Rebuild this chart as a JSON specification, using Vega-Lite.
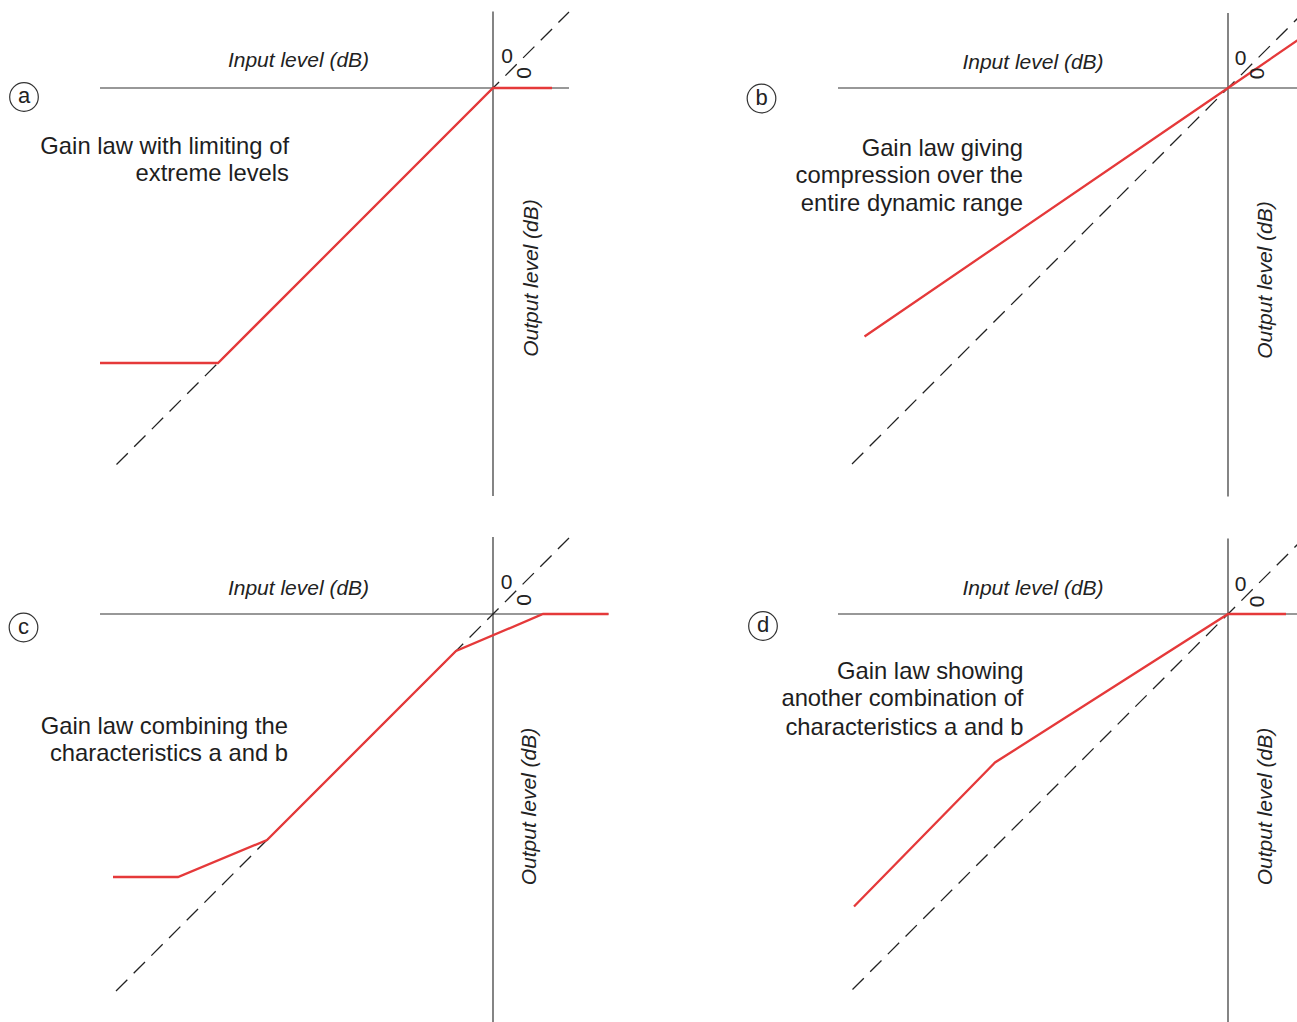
{
  "$schema": "https://vega.github.io/schema/vega-lite/v6.json",
  "padding": 0,
  "background": "white",
  "config": {"view": {"stroke": null}},
  "datasets": {
    "lines": [
      {"panel": "a", "series": "axis", "seg": "h", "i": 0, "x": -78.6, "y": 0},
      {"panel": "a", "series": "axis", "seg": "h", "i": 1, "x": 15.2, "y": 0},
      {"panel": "a", "series": "axis", "seg": "v", "i": 0, "x": 0, "y": 15.3},
      {"panel": "a", "series": "axis", "seg": "v", "i": 1, "x": 0, "y": -81.6},
      {"panel": "a", "series": "unity", "seg": "d", "i": 0, "x": -75.3, "y": -75.3},
      {"panel": "a", "series": "unity", "seg": "d", "i": 1, "x": 15.2, "y": 15.2},
      {"panel": "a", "series": "gain", "seg": "g", "i": 0, "x": -78.6, "y": -55},
      {"panel": "a", "series": "gain", "seg": "g", "i": 1, "x": -55, "y": -55},
      {"panel": "a", "series": "gain", "seg": "g", "i": 2, "x": 0, "y": 0},
      {"panel": "a", "series": "gain", "seg": "g", "i": 3, "x": 11.8, "y": 0},

      {"panel": "b", "series": "axis", "seg": "h", "i": 0, "x": -78, "y": 0},
      {"panel": "b", "series": "axis", "seg": "h", "i": 1, "x": 20, "y": 0},
      {"panel": "b", "series": "axis", "seg": "v", "i": 0, "x": 0, "y": 15},
      {"panel": "b", "series": "axis", "seg": "v", "i": 1, "x": 0, "y": -81.7},
      {"panel": "b", "series": "unity", "seg": "d", "i": 0, "x": -75.2, "y": -75.2},
      {"panel": "b", "series": "unity", "seg": "d", "i": 1, "x": 16, "y": 16},
      {"panel": "b", "series": "gain", "seg": "g", "i": 0, "x": -72.7, "y": -49.7},
      {"panel": "b", "series": "gain", "seg": "g", "i": 1, "x": 0, "y": 0},
      {"panel": "b", "series": "gain", "seg": "g", "i": 2, "x": 15, "y": 10.3},

      {"panel": "c", "series": "axis", "seg": "h", "i": 0, "x": -78.6, "y": 0},
      {"panel": "c", "series": "axis", "seg": "h", "i": 1, "x": 23.1, "y": 0},
      {"panel": "c", "series": "axis", "seg": "v", "i": 0, "x": 0, "y": 15.4},
      {"panel": "c", "series": "axis", "seg": "v", "i": 1, "x": 0, "y": -81.6},
      {"panel": "c", "series": "unity", "seg": "d", "i": 0, "x": -75.4, "y": -75.4},
      {"panel": "c", "series": "unity", "seg": "d", "i": 1, "x": 15.2, "y": 15.2},
      {"panel": "c", "series": "gain", "seg": "g", "i": 0, "x": -76, "y": -52.6},
      {"panel": "c", "series": "gain", "seg": "g", "i": 1, "x": -63, "y": -52.6},
      {"panel": "c", "series": "gain", "seg": "g", "i": 2, "x": -45.2, "y": -45.2},
      {"panel": "c", "series": "gain", "seg": "g", "i": 3, "x": -7.4, "y": -7.4},
      {"panel": "c", "series": "gain", "seg": "g", "i": 4, "x": 10, "y": 0},
      {"panel": "c", "series": "gain", "seg": "g", "i": 5, "x": 23.1, "y": 0},

      {"panel": "d", "series": "axis", "seg": "h", "i": 0, "x": -78, "y": 0},
      {"panel": "d", "series": "axis", "seg": "h", "i": 1, "x": 20, "y": 0},
      {"panel": "d", "series": "axis", "seg": "v", "i": 0, "x": 0, "y": 15.1},
      {"panel": "d", "series": "axis", "seg": "v", "i": 1, "x": 0, "y": -81.6},
      {"panel": "d", "series": "unity", "seg": "d", "i": 0, "x": -75.1, "y": -75.1},
      {"panel": "d", "series": "unity", "seg": "d", "i": 1, "x": 16, "y": 16},
      {"panel": "d", "series": "gain", "seg": "g", "i": 0, "x": -74.8, "y": -58.5},
      {"panel": "d", "series": "gain", "seg": "g", "i": 1, "x": -46.6, "y": -29.7},
      {"panel": "d", "series": "gain", "seg": "g", "i": 2, "x": 0, "y": 0},
      {"panel": "d", "series": "gain", "seg": "g", "i": 3, "x": 11.6, "y": 0}
    ],
    "labels": [
      {"panel": "a", "kind": "tag", "text": "a", "x": -93.8, "y": -1.8},
      {"panel": "a", "kind": "note", "text": "Gain law with limiting of", "x": -40.8, "y": -11.7},
      {"panel": "a", "kind": "note", "text": "extreme levels", "x": -40.8, "y": -17.2},
      {"panel": "a", "kind": "input", "text": "Input level (dB)", "x": -38.9, "y": 5.4},
      {"panel": "a", "kind": "output", "text": "Output level (dB)", "x": 7.7, "y": -38},
      {"panel": "a", "kind": "zero", "text": "0", "x": 2.8, "y": 6.2},
      {"panel": "a", "kind": "zerorot", "text": "0", "x": 6.4, "y": 3},

      {"panel": "b", "kind": "tag", "text": "b", "x": -93.3, "y": -2.1},
      {"panel": "b", "kind": "note", "text": "Gain law giving", "x": -41, "y": -12.1},
      {"panel": "b", "kind": "note", "text": "compression over the", "x": -41, "y": -17.6},
      {"panel": "b", "kind": "note", "text": "entire dynamic range", "x": -41, "y": -23.1},
      {"panel": "b", "kind": "input", "text": "Input level (dB)", "x": -39, "y": 5.1},
      {"panel": "b", "kind": "output", "text": "Output level (dB)", "x": 7.5, "y": -38.4},
      {"panel": "b", "kind": "zero", "text": "0", "x": 2.5, "y": 5.9},
      {"panel": "b", "kind": "zerorot", "text": "0", "x": 6, "y": 2.9},

      {"panel": "c", "kind": "tag", "text": "c", "x": -93.9, "y": -2.7},
      {"panel": "c", "kind": "note", "text": "Gain law combining the", "x": -41, "y": -22.5},
      {"panel": "c", "kind": "note", "text": "characteristics a and b", "x": -41, "y": -28},
      {"panel": "c", "kind": "input", "text": "Input level (dB)", "x": -38.9, "y": 5.1},
      {"panel": "c", "kind": "output", "text": "Output level (dB)", "x": 7.3, "y": -38.5},
      {"panel": "c", "kind": "zero", "text": "0", "x": 2.7, "y": 6.3},
      {"panel": "c", "kind": "zerorot", "text": "0", "x": 6.3, "y": 2.8},

      {"panel": "d", "kind": "tag", "text": "d", "x": -93, "y": -2.4},
      {"panel": "d", "kind": "note", "text": "Gain law showing", "x": -40.9, "y": -11.5},
      {"panel": "d", "kind": "note", "text": "another combination of", "x": -40.9, "y": -17},
      {"panel": "d", "kind": "note", "text": "characteristics a and b", "x": -40.9, "y": -22.7},
      {"panel": "d", "kind": "input", "text": "Input level (dB)", "x": -39, "y": 5},
      {"panel": "d", "kind": "output", "text": "Output level (dB)", "x": 7.5, "y": -38.5},
      {"panel": "d", "kind": "zero", "text": "0", "x": 2.5, "y": 5.8},
      {"panel": "d", "kind": "zerorot", "text": "0", "x": 6, "y": 2.5}
    ]
  },
  "spacing": 0,
  "columns": 2,
  "concat": [
    {
      "width": 735, "height": 526,
      "encoding": {
        "x": {"field": "x", "type": "quantitative", "axis": null, "scale": {"domain": [-98.6, 48.4], "nice": false, "zero": false}},
        "y": {"field": "y", "type": "quantitative", "axis": null, "scale": {"domain": [-87.6, 17.6], "nice": false, "zero": false}}
      },
      "layer": [
        {"data": {"name": "lines"}, "transform": [{"filter": "datum.panel === 'a' && datum.series === 'axis'"}], "mark": {"type": "line", "color": "#333333", "strokeWidth": 1.2, "clip": true}, "encoding": {"detail": {"field": "seg"}, "order": {"field": "i"}}},
        {"data": {"name": "lines"}, "transform": [{"filter": "datum.panel === 'a' && datum.series === 'unity'"}], "mark": {"type": "line", "color": "#222222", "strokeWidth": 1.3, "strokeDash": [16, 9], "clip": true}, "encoding": {"detail": {"field": "seg"}, "order": {"field": "i"}}},
        {"data": {"name": "lines"}, "transform": [{"filter": "datum.panel === 'a' && datum.series === 'gain'"}], "mark": {"type": "line", "color": "#e5393a", "strokeWidth": 2.3, "clip": true}, "encoding": {"order": {"field": "i"}}},
        {"data": {"name": "labels"}, "transform": [{"filter": "datum.panel === 'a' && datum.kind === 'tag'"}], "mark": {"type": "point", "shape": "circle", "size": 820, "filled": false, "stroke": "#333333", "strokeWidth": 1.2, "opacity": 1}},
        {"data": {"name": "labels"}, "transform": [{"filter": "datum.panel === 'a' && datum.kind === 'tag'"}], "mark": {"type": "text", "align": "center", "baseline": "middle", "fontSize": 22, "font": "Liberation Sans", "color": "#222222", "dy": -1}, "encoding": {"text": {"field": "text"}}},
        {"data": {"name": "labels"}, "transform": [{"filter": "datum.panel === 'a' && datum.kind === 'note'"}], "mark": {"type": "text", "align": "right", "baseline": "middle", "fontSize": 23.8, "font": "Liberation Sans", "color": "#1e1e1e"}, "encoding": {"text": {"field": "text"}}},
        {"data": {"name": "labels"}, "transform": [{"filter": "datum.panel === 'a' && datum.kind === 'input'"}], "mark": {"type": "text", "align": "center", "baseline": "middle", "fontSize": 21, "fontStyle": "italic", "font": "Liberation Sans", "color": "#222222"}, "encoding": {"text": {"field": "text"}}},
        {"data": {"name": "labels"}, "transform": [{"filter": "datum.panel === 'a' && datum.kind === 'output'"}], "mark": {"type": "text", "align": "center", "baseline": "middle", "angle": 270, "fontSize": 21, "fontStyle": "italic", "font": "Liberation Sans", "color": "#222222"}, "encoding": {"text": {"field": "text"}}},
        {"data": {"name": "labels"}, "transform": [{"filter": "datum.panel === 'a' && datum.kind === 'zero'"}], "mark": {"type": "text", "align": "center", "baseline": "middle", "fontSize": 21, "font": "Liberation Sans", "color": "#222222"}, "encoding": {"text": {"field": "text"}}},
        {"data": {"name": "labels"}, "transform": [{"filter": "datum.panel === 'a' && datum.kind === 'zerorot'"}], "mark": {"type": "text", "align": "center", "baseline": "middle", "angle": 270, "fontSize": 21, "font": "Liberation Sans", "color": "#222222"}, "encoding": {"text": {"field": "text"}}}
      ]
    },
    {
      "width": 562, "height": 526,
      "encoding": {
        "x": {"field": "x", "type": "quantitative", "axis": null, "scale": {"domain": [-98.6, 13.8], "nice": false, "zero": false}},
        "y": {"field": "y", "type": "quantitative", "axis": null, "scale": {"domain": [-87.6, 17.6], "nice": false, "zero": false}}
      },
      "layer": [
        {"data": {"name": "lines"}, "transform": [{"filter": "datum.panel === 'b' && datum.series === 'axis'"}], "mark": {"type": "line", "color": "#333333", "strokeWidth": 1.2, "clip": true}, "encoding": {"detail": {"field": "seg"}, "order": {"field": "i"}}},
        {"data": {"name": "lines"}, "transform": [{"filter": "datum.panel === 'b' && datum.series === 'unity'"}], "mark": {"type": "line", "color": "#222222", "strokeWidth": 1.3, "strokeDash": [16, 9], "clip": true}, "encoding": {"detail": {"field": "seg"}, "order": {"field": "i"}}},
        {"data": {"name": "lines"}, "transform": [{"filter": "datum.panel === 'b' && datum.series === 'gain'"}], "mark": {"type": "line", "color": "#e5393a", "strokeWidth": 2.3, "clip": true}, "encoding": {"order": {"field": "i"}}},
        {"data": {"name": "labels"}, "transform": [{"filter": "datum.panel === 'b' && datum.kind === 'tag'"}], "mark": {"type": "point", "shape": "circle", "size": 820, "filled": false, "stroke": "#333333", "strokeWidth": 1.2, "opacity": 1}},
        {"data": {"name": "labels"}, "transform": [{"filter": "datum.panel === 'b' && datum.kind === 'tag'"}], "mark": {"type": "text", "align": "center", "baseline": "middle", "fontSize": 22, "font": "Liberation Sans", "color": "#222222", "dy": -1}, "encoding": {"text": {"field": "text"}}},
        {"data": {"name": "labels"}, "transform": [{"filter": "datum.panel === 'b' && datum.kind === 'note'"}], "mark": {"type": "text", "align": "right", "baseline": "middle", "fontSize": 23.8, "font": "Liberation Sans", "color": "#1e1e1e"}, "encoding": {"text": {"field": "text"}}},
        {"data": {"name": "labels"}, "transform": [{"filter": "datum.panel === 'b' && datum.kind === 'input'"}], "mark": {"type": "text", "align": "center", "baseline": "middle", "fontSize": 21, "fontStyle": "italic", "font": "Liberation Sans", "color": "#222222"}, "encoding": {"text": {"field": "text"}}},
        {"data": {"name": "labels"}, "transform": [{"filter": "datum.panel === 'b' && datum.kind === 'output'"}], "mark": {"type": "text", "align": "center", "baseline": "middle", "angle": 270, "fontSize": 21, "fontStyle": "italic", "font": "Liberation Sans", "color": "#222222"}, "encoding": {"text": {"field": "text"}}},
        {"data": {"name": "labels"}, "transform": [{"filter": "datum.panel === 'b' && datum.kind === 'zero'"}], "mark": {"type": "text", "align": "center", "baseline": "middle", "fontSize": 21, "font": "Liberation Sans", "color": "#222222"}, "encoding": {"text": {"field": "text"}}},
        {"data": {"name": "labels"}, "transform": [{"filter": "datum.panel === 'b' && datum.kind === 'zerorot'"}], "mark": {"type": "text", "align": "center", "baseline": "middle", "angle": 270, "fontSize": 21, "font": "Liberation Sans", "color": "#222222"}, "encoding": {"text": {"field": "text"}}}
      ]
    },
    {
      "width": 735, "height": 496,
      "encoding": {
        "x": {"field": "x", "type": "quantitative", "axis": null, "scale": {"domain": [-98.6, 48.4], "nice": false, "zero": false}},
        "y": {"field": "y", "type": "quantitative", "axis": null, "scale": {"domain": [-81.6, 17.6], "nice": false, "zero": false}}
      },
      "layer": [
        {"data": {"name": "lines"}, "transform": [{"filter": "datum.panel === 'c' && datum.series === 'axis'"}], "mark": {"type": "line", "color": "#333333", "strokeWidth": 1.2, "clip": true}, "encoding": {"detail": {"field": "seg"}, "order": {"field": "i"}}},
        {"data": {"name": "lines"}, "transform": [{"filter": "datum.panel === 'c' && datum.series === 'unity'"}], "mark": {"type": "line", "color": "#222222", "strokeWidth": 1.3, "strokeDash": [16, 9], "clip": true}, "encoding": {"detail": {"field": "seg"}, "order": {"field": "i"}}},
        {"data": {"name": "lines"}, "transform": [{"filter": "datum.panel === 'c' && datum.series === 'gain'"}], "mark": {"type": "line", "color": "#e5393a", "strokeWidth": 2.3, "clip": true}, "encoding": {"order": {"field": "i"}}},
        {"data": {"name": "labels"}, "transform": [{"filter": "datum.panel === 'c' && datum.kind === 'tag'"}], "mark": {"type": "point", "shape": "circle", "size": 820, "filled": false, "stroke": "#333333", "strokeWidth": 1.2, "opacity": 1}},
        {"data": {"name": "labels"}, "transform": [{"filter": "datum.panel === 'c' && datum.kind === 'tag'"}], "mark": {"type": "text", "align": "center", "baseline": "middle", "fontSize": 22, "font": "Liberation Sans", "color": "#222222", "dy": -1}, "encoding": {"text": {"field": "text"}}},
        {"data": {"name": "labels"}, "transform": [{"filter": "datum.panel === 'c' && datum.kind === 'note'"}], "mark": {"type": "text", "align": "right", "baseline": "middle", "fontSize": 23.8, "font": "Liberation Sans", "color": "#1e1e1e"}, "encoding": {"text": {"field": "text"}}},
        {"data": {"name": "labels"}, "transform": [{"filter": "datum.panel === 'c' && datum.kind === 'input'"}], "mark": {"type": "text", "align": "center", "baseline": "middle", "fontSize": 21, "fontStyle": "italic", "font": "Liberation Sans", "color": "#222222"}, "encoding": {"text": {"field": "text"}}},
        {"data": {"name": "labels"}, "transform": [{"filter": "datum.panel === 'c' && datum.kind === 'output'"}], "mark": {"type": "text", "align": "center", "baseline": "middle", "angle": 270, "fontSize": 21, "fontStyle": "italic", "font": "Liberation Sans", "color": "#222222"}, "encoding": {"text": {"field": "text"}}},
        {"data": {"name": "labels"}, "transform": [{"filter": "datum.panel === 'c' && datum.kind === 'zero'"}], "mark": {"type": "text", "align": "center", "baseline": "middle", "fontSize": 21, "font": "Liberation Sans", "color": "#222222"}, "encoding": {"text": {"field": "text"}}},
        {"data": {"name": "labels"}, "transform": [{"filter": "datum.panel === 'c' && datum.kind === 'zerorot'"}], "mark": {"type": "text", "align": "center", "baseline": "middle", "angle": 270, "fontSize": 21, "font": "Liberation Sans", "color": "#222222"}, "encoding": {"text": {"field": "text"}}}
      ]
    },
    {
      "width": 562, "height": 496,
      "encoding": {
        "x": {"field": "x", "type": "quantitative", "axis": null, "scale": {"domain": [-98.6, 13.8], "nice": false, "zero": false}},
        "y": {"field": "y", "type": "quantitative", "axis": null, "scale": {"domain": [-81.6, 17.6], "nice": false, "zero": false}}
      },
      "layer": [
        {"data": {"name": "lines"}, "transform": [{"filter": "datum.panel === 'd' && datum.series === 'axis'"}], "mark": {"type": "line", "color": "#333333", "strokeWidth": 1.2, "clip": true}, "encoding": {"detail": {"field": "seg"}, "order": {"field": "i"}}},
        {"data": {"name": "lines"}, "transform": [{"filter": "datum.panel === 'd' && datum.series === 'unity'"}], "mark": {"type": "line", "color": "#222222", "strokeWidth": 1.3, "strokeDash": [16, 9], "clip": true}, "encoding": {"detail": {"field": "seg"}, "order": {"field": "i"}}},
        {"data": {"name": "lines"}, "transform": [{"filter": "datum.panel === 'd' && datum.series === 'gain'"}], "mark": {"type": "line", "color": "#e5393a", "strokeWidth": 2.3, "clip": true}, "encoding": {"order": {"field": "i"}}},
        {"data": {"name": "labels"}, "transform": [{"filter": "datum.panel === 'd' && datum.kind === 'tag'"}], "mark": {"type": "point", "shape": "circle", "size": 820, "filled": false, "stroke": "#333333", "strokeWidth": 1.2, "opacity": 1}},
        {"data": {"name": "labels"}, "transform": [{"filter": "datum.panel === 'd' && datum.kind === 'tag'"}], "mark": {"type": "text", "align": "center", "baseline": "middle", "fontSize": 22, "font": "Liberation Sans", "color": "#222222", "dy": -1}, "encoding": {"text": {"field": "text"}}},
        {"data": {"name": "labels"}, "transform": [{"filter": "datum.panel === 'd' && datum.kind === 'note'"}], "mark": {"type": "text", "align": "right", "baseline": "middle", "fontSize": 23.8, "font": "Liberation Sans", "color": "#1e1e1e"}, "encoding": {"text": {"field": "text"}}},
        {"data": {"name": "labels"}, "transform": [{"filter": "datum.panel === 'd' && datum.kind === 'input'"}], "mark": {"type": "text", "align": "center", "baseline": "middle", "fontSize": 21, "fontStyle": "italic", "font": "Liberation Sans", "color": "#222222"}, "encoding": {"text": {"field": "text"}}},
        {"data": {"name": "labels"}, "transform": [{"filter": "datum.panel === 'd' && datum.kind === 'output'"}], "mark": {"type": "text", "align": "center", "baseline": "middle", "angle": 270, "fontSize": 21, "fontStyle": "italic", "font": "Liberation Sans", "color": "#222222"}, "encoding": {"text": {"field": "text"}}},
        {"data": {"name": "labels"}, "transform": [{"filter": "datum.panel === 'd' && datum.kind === 'zero'"}], "mark": {"type": "text", "align": "center", "baseline": "middle", "fontSize": 21, "font": "Liberation Sans", "color": "#222222"}, "encoding": {"text": {"field": "text"}}},
        {"data": {"name": "labels"}, "transform": [{"filter": "datum.panel === 'd' && datum.kind === 'zerorot'"}], "mark": {"type": "text", "align": "center", "baseline": "middle", "angle": 270, "fontSize": 21, "font": "Liberation Sans", "color": "#222222"}, "encoding": {"text": {"field": "text"}}}
      ]
    }
  ]
}
